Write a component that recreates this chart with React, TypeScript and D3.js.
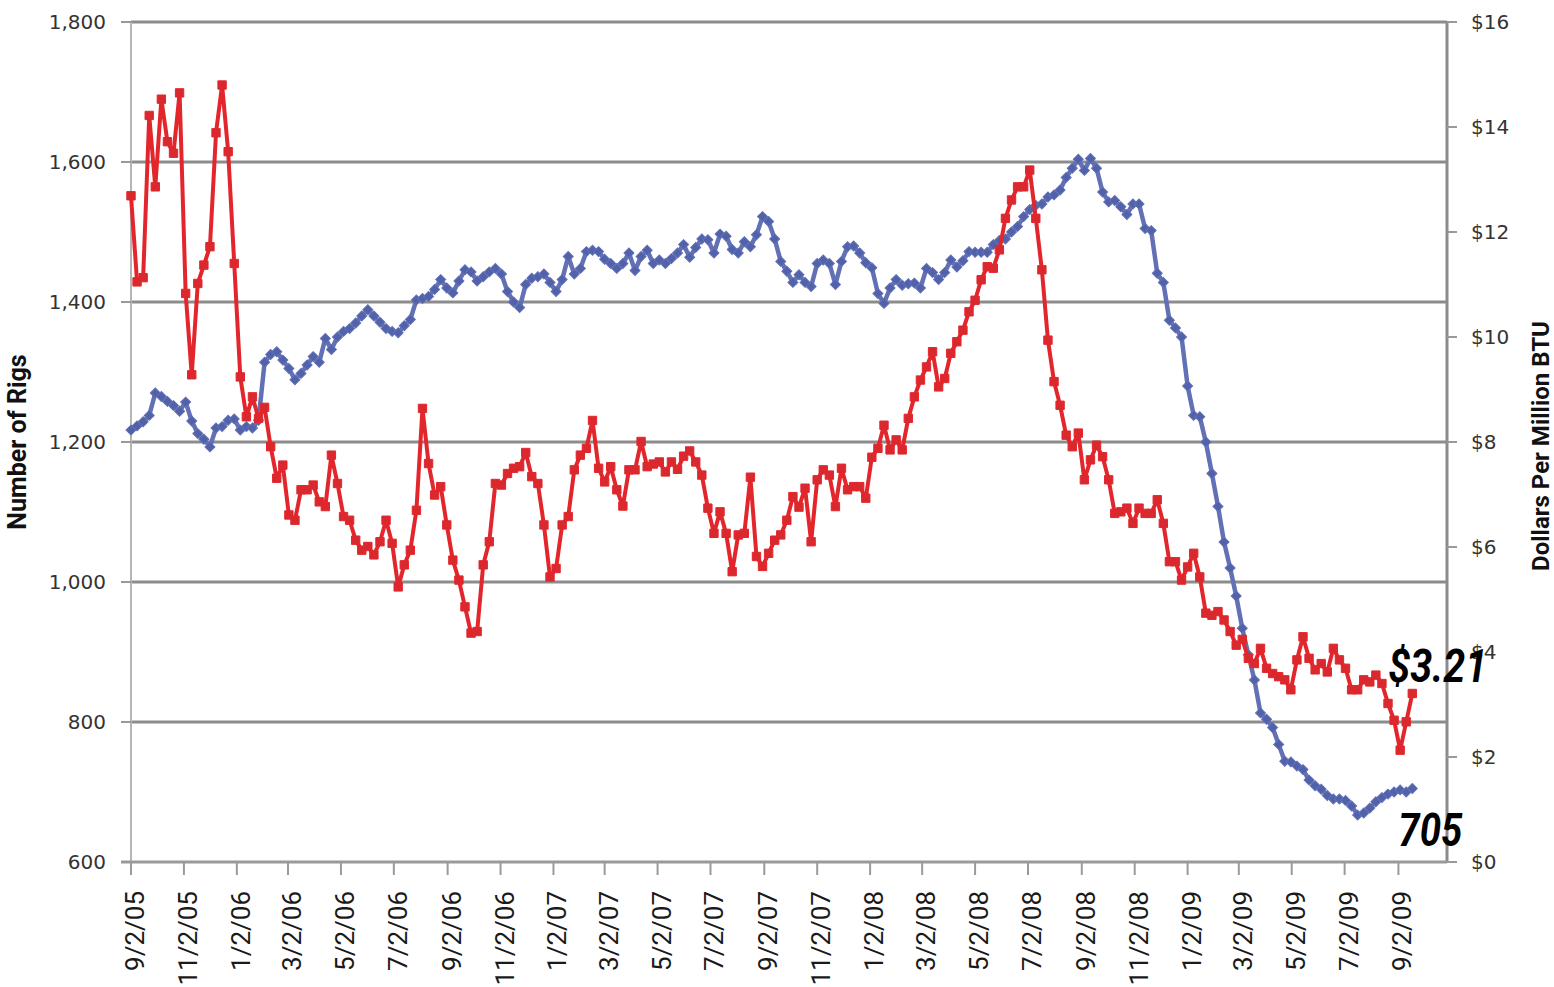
import React from "react";
import * as d3 from "d3";

// weekly series, first Friday 9/2/05
const firstWeek = "9/2/05";
const axisEnd = "10/28/09";

const xTickLabels = [
  "9/2/05", "11/2/05", "1/2/06", "3/2/06", "5/2/06", "7/2/06", "9/2/06", "11/2/06",
  "1/2/07", "3/2/07", "5/2/07", "7/2/07", "9/2/07", "11/2/07", "1/2/08", "3/2/08",
  "5/2/08", "7/2/08", "9/2/08", "11/2/08", "1/2/09", "3/2/09", "5/2/09", "7/2/09", "9/2/09",
];
const rigTicks = [600, 800, 1000, 1200, 1400, 1600, 1800];
const priceTicks = [0, 2, 4, 6, 8, 10, 12, 14, 16];

// number of gas rigs
const gasRigs = [
  1217, 1223, 1229, 1238, 1270, 1265, 1258, 1252, 1244, 1257,
  1230, 1212, 1204, 1193, 1220, 1222, 1231, 1233, 1217, 1222,
  1220, 1231, 1314, 1325, 1329, 1317, 1305, 1289, 1298, 1310,
  1322, 1314, 1348, 1332, 1350, 1358, 1362, 1370, 1380, 1389,
  1380, 1371, 1362, 1358, 1356, 1366, 1375, 1403, 1405, 1408,
  1418, 1432, 1420, 1413, 1430, 1446, 1443, 1430, 1436, 1443,
  1448, 1440, 1415, 1400, 1392, 1425, 1434, 1436, 1440, 1428,
  1415, 1432, 1465, 1440, 1448, 1472, 1474, 1472, 1461, 1455,
  1448, 1455, 1470, 1445, 1465, 1474, 1455, 1460, 1455, 1462,
  1470, 1482, 1464, 1478, 1490, 1489, 1470, 1497, 1494, 1475,
  1470, 1486, 1479, 1496, 1522, 1515, 1490, 1458, 1444, 1428,
  1439, 1428, 1422, 1455, 1460, 1455, 1425, 1458, 1479, 1480,
  1470, 1456, 1449, 1412, 1398, 1420, 1432, 1424, 1426, 1427,
  1420, 1448, 1442, 1432, 1442, 1460, 1450, 1459, 1472, 1471,
  1471, 1471, 1482, 1488, 1490, 1500, 1508, 1522, 1532, 1538,
  1540, 1550, 1553, 1560, 1578, 1591, 1604, 1588, 1605, 1591,
  1557, 1543, 1545, 1536, 1525, 1540, 1540, 1505, 1502, 1441,
  1428, 1374, 1363, 1350, 1280, 1238, 1236, 1200, 1155, 1108,
  1057, 1020, 980, 934, 896, 860, 813, 804, 792, 768,
  744, 743, 737, 732, 717, 709, 704, 695, 690, 690,
  688, 680, 667, 670, 677, 686, 692, 697, 700, 703,
  700, 705,
];

// dollars per million BTU
const gasPrice = [
  12.69, 11.05, 11.13, 14.22, 12.86, 14.53, 13.72, 13.5, 14.65, 10.83,
  9.28, 11.02, 11.37, 11.72, 13.89, 14.8, 13.53, 11.4,
  9.24, 8.48, 8.86, 8.45, 8.66, 7.91, 7.31, 7.56, 6.61, 6.51,
  7.09, 7.09, 7.18, 6.86, 6.77, 7.75, 7.21, 6.58, 6.51, 6.13,
  5.94, 6.01, 5.85, 6.1, 6.51, 6.07, 5.24, 5.66, 5.94, 6.7,
  8.64, 7.59, 6.99, 7.15, 6.42, 5.75, 5.37, 4.86, 4.36, 4.39,
  5.66, 6.1, 7.21, 7.18, 7.4, 7.5, 7.53,
  7.8, 7.34, 7.21, 6.42, 5.43, 5.59, 6.42, 6.58, 7.47, 7.75,
  7.88, 8.41, 7.5, 7.24, 7.53, 7.09, 6.78, 7.47, 7.47, 8.01,
  7.53, 7.58, 7.62, 7.43, 7.62, 7.48, 7.73, 7.83, 7.62, 7.37,
  6.74, 6.26, 6.67, 6.26, 5.53, 6.23, 6.26, 7.33, 5.82, 5.63,
  5.88, 6.13, 6.23, 6.51, 6.96, 6.76, 7.12, 6.1, 7.28, 7.47,
  7.37, 6.77, 7.5, 7.09, 7.15, 7.15, 6.93, 7.71, 7.88, 8.32,
  7.85, 8.04,
  7.85, 8.45, 8.86, 9.18, 9.43, 9.72, 9.05, 9.21, 9.69, 9.91,
  10.13, 10.48, 10.7, 11.09, 11.34, 11.31, 11.66, 12.26, 12.61, 12.86,
  12.86, 13.18, 12.26, 11.28, 9.94,
  9.15, 8.7, 8.13, 7.91, 8.17, 7.28, 7.66, 7.94, 7.72, 7.28,
  6.64, 6.67, 6.74, 6.45, 6.74, 6.64, 6.64, 6.9, 6.45, 5.72,
  5.72, 5.37, 5.62, 5.88, 5.43, 4.74, 4.7,
  4.77, 4.61, 4.39, 4.13, 4.24, 3.88, 3.78, 4.07, 3.69, 3.59,
  3.53, 3.47, 3.28, 3.85, 4.29, 3.88, 3.66, 3.78, 3.62, 4.07,
  3.85, 3.69, 3.28, 3.28, 3.47, 3.43, 3.56, 3.4, 3.02, 2.7,
  2.13, 2.67, 3.21,
];

const W = 1554;
const H = 987;
const plot = { left: 131, right: 1447, top: 22, bottom: 862 };

const parse = d3.timeParse("%m/%d/%y");
const tickFont = "'DejaVu Sans', Verdana, sans-serif";
const labelFont = "Roboto, 'Open Sans', sans-serif";

export default function App() {
  const start = parse(firstWeek) as Date;
  const weeks = gasRigs.map((_, i) => d3.timeDay.offset(start, i * 7));

  const x = d3.scaleTime().domain([start, parse(axisEnd) as Date]).range([plot.left, plot.right]);
  const yRigs = d3.scaleLinear().domain([600, 1800]).range([plot.bottom, plot.top]);
  const yPrice = d3.scaleLinear().domain([0, 16]).range([plot.bottom, plot.top]);

  const rigLine = d3.line<number>().x((_, i) => x(weeks[i])).y((d) => yRigs(d));
  const priceLine = d3.line<number>().x((_, i) => x(weeks[i])).y((d) => yPrice(d));
  const square = d3.symbol(d3.symbolSquare, 70)() as string;
  const diamond = d3.symbol(d3.symbolSquare, 50)() as string;

  const last = weeks.length - 1;
  const lastX = x(weeks[last]);

  return (
    <svg width={W} height={H} style={{ position: "absolute", left: 0, top: 0, background: "#fff" }}>
      {/* gridlines */}
      {rigTicks.slice(1).map((t) => (
        <line key={t} x1={plot.left} x2={plot.right} y1={yRigs(t)} y2={yRigs(t)} stroke="#8c8c8c" strokeWidth={3} />
      ))}

      {/* left axis */}
      <line x1={plot.left} x2={plot.left} y1={plot.top} y2={plot.bottom} stroke="#b5b5b5" strokeWidth={2} />
      {rigTicks.map((t) => (
        <g key={t}>
          <line x1={plot.left - 10} x2={plot.left} y1={yRigs(t)} y2={yRigs(t)} stroke="#9a9a9a" strokeWidth={2} />
          <text x={106} y={yRigs(t)} dy="0.36em" textAnchor="end" fontFamily={tickFont} fontSize={20} fill="#333">
            {d3.format(",")(t)}
          </text>
        </g>
      ))}

      {/* right axis */}
      <line x1={plot.right} x2={plot.right} y1={plot.top} y2={plot.bottom} stroke="#8c8c8c" strokeWidth={3} />
      {priceTicks.map((t) => (
        <g key={t}>
          <line x1={plot.right} x2={plot.right + 10} y1={yPrice(t)} y2={yPrice(t)} stroke="#9a9a9a" strokeWidth={2} />
          <text x={1471} y={yPrice(t)} dy="0.36em" fontFamily={tickFont} fontSize={20} fill="#333">
            {"$" + t}
          </text>
        </g>
      ))}

      {/* bottom axis */}
      <line x1={plot.left - 10} x2={plot.right} y1={plot.bottom} y2={plot.bottom} stroke="#9a9a9a" strokeWidth={3} />
      {xTickLabels.map((lab) => {
        const tx = x(parse(lab) as Date);
        return (
          <g key={lab}>
            <line x1={tx} x2={tx} y1={plot.bottom} y2={plot.bottom + 13} stroke="#9a9a9a" strokeWidth={2} />
            <text
              transform={`translate(${tx + 13},891) rotate(-90)`}
              textAnchor="end"
              fontFamily={labelFont}
              fontSize={26}
              fill="#1a1a1a"
            >
              {lab}
            </text>
          </g>
        );
      })}

      {/* axis titles */}
      <text
        transform={`translate(26,${(plot.top + plot.bottom) / 2}) rotate(-90)`}
        textAnchor="middle"
        fontFamily={labelFont}
        fontWeight="bold"
        fontSize={25}
        fill="#111"
      >
        Number of Rigs
      </text>
      <text
        transform={`translate(1549,${(plot.top + plot.bottom) / 2 + 4}) rotate(-90)`}
        textAnchor="middle"
        fontFamily={labelFont}
        fontWeight="bold"
        fontSize={24}
        fill="#111"
      >
        Dollars Per Million BTU
      </text>

      {/* rig count */}
      <path d={rigLine(gasRigs) as string} fill="none" stroke="#6270b5" strokeWidth={4.5} strokeLinejoin="round" />
      {gasRigs.map((v, i) => (
        <path
          key={"r" + i}
          d={diamond}
          transform={`translate(${x(weeks[i])},${yRigs(v)}) rotate(45)`}
          fill="#5162ab"
          stroke="#6270b5"
          strokeWidth={1}
        />
      ))}

      {/* gas price */}
      <path d={priceLine(gasPrice) as string} fill="none" stroke="#e3262c" strokeWidth={4} strokeLinejoin="round" />
      {gasPrice.map((v, i) => (
        <path
          key={"p" + i}
          d={square}
          transform={`translate(${x(weeks[i])},${yPrice(v)})`}
          fill="#d9292e"
          stroke="#e3262c"
          strokeWidth={1}
        />
      ))}

      {/* end labels */}
      <text
        x={lastX - 24}
        y={yPrice(gasPrice[last]) - 11}
        fontFamily="'Liberation Sans Narrow', Roboto, sans-serif"
        fontWeight="bold"
        fontStyle="italic"
        fontSize={46}
        textLength={99}
        lengthAdjust="spacingAndGlyphs"
        fill="#000"
      >
        $3.21
      </text>
      <text
        x={lastX - 14}
        y={yRigs(gasRigs[last]) + 57}
        fontFamily="'Liberation Sans Narrow', Roboto, sans-serif"
        fontWeight="bold"
        fontStyle="italic"
        fontSize={46}
        textLength={64}
        lengthAdjust="spacingAndGlyphs"
        fill="#000"
      >
        705
      </text>
    </svg>
  );
}
